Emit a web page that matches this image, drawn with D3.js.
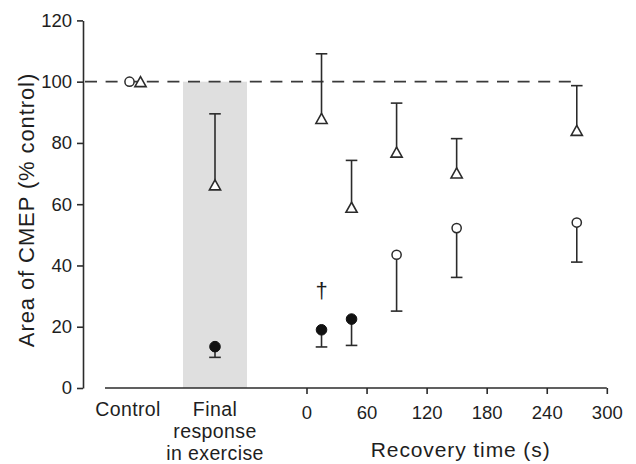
<!DOCTYPE html>
<html>
<head>
<meta charset="utf-8">
<script src="https://cdn.jsdelivr.net/npm/d3@7"></script>
<style>
  html, body { margin: 0; padding: 0; background: #fff; }
  svg { display: block; }
  text { font-family: "Liberation Sans", Arial, Helvetica, sans-serif; fill: #1e1e1e; }
</style>
</head>
<body>
<svg id="chart" width="636" height="464"></svg>
<script>
// Categorical columns on the left of the x axis
const categories = ["Control", "Final response in exercise"];
const categoryLines = [["Control"], ["Final", "response", "in exercise"]];

// Recovery time points (s)
const recoveryTimes = [15, 45, 90, 150, 270];

// Triangle series (% control): control, final response, recovery
const triControl = 100;
const triFinal = 66.3;
const triFinalUpper = 89.5;
const triRecovery = [88.0, 59.0, 77.0, 70.2, 84.1];
const triRecoveryUpper = [109.1, 74.3, 93.0, 81.4, 98.7];

// Circle series (% control): control, final response, recovery
const circControl = 100;
const circFinal = 13.5;
const circFinalLower = 10.0;
const circRecovery = [19.0, 22.5, 43.5, 52.2, 54.0];
const circRecoveryLower = [13.4, 13.9, 25.1, 36.1, 41.1];
const circFilled = [true, true, false, false, false];

// Axis ticks
const yTicks = [0, 20, 40, 60, 80, 100, 120];
const xTicks = [0, 60, 120, 180, 240, 300];

// Significance marker
const daggerTime = 15;
const daggerText = "\u2020";

const svg = d3.select("#chart");
const ink = "#2b2b2b";

const y = d3.scaleLinear().domain([0, 120]).range([388, 20.4]);
const xTime = d3.scaleLinear().domain([0, 300]).range([306.5, 606.8]);
const xCat = d3.scalePoint().domain(categories).range([128, 215]);

const axisLeftX = 83;
const axisBottomStart = 105;

// Shaded exercise column
const bandW = 64;
svg.append("rect")
  .attr("x", xCat(categories[1]) - bandW / 2)
  .attr("y", y(100))
  .attr("width", bandW)
  .attr("height", y(0) - y(100))
  .attr("fill", "#dfdfdf");

// Reference line at 100 %
svg.append("line")
  .attr("x1", axisLeftX).attr("x2", xTime(268))
  .attr("y1", y(100)).attr("y2", y(100))
  .attr("stroke", "#3a3a3a").attr("stroke-width", 1.8)
  .attr("stroke-dasharray", "12,8.6")
  .attr("stroke-dashoffset", 18.6);

// Y axis
const yAxis = d3.axisLeft(y).tickValues(yTicks).tickSize(6).tickSizeOuter(0).tickPadding(5);
const gy = svg.append("g").attr("transform", `translate(${axisLeftX},0)`).call(yAxis);
gy.select(".domain").attr("stroke", ink).attr("stroke-width", 1.6);
gy.selectAll(".tick line").attr("stroke", ink).attr("stroke-width", 1.6);
gy.selectAll(".tick text")
  .attr("font-size", 18.5).attr("fill", "#1e1e1e")
  .style("font-family", '"Liberation Sans", Arial, sans-serif');

// X axis (time)
const xAxis = d3.axisBottom(xTime).tickValues(xTicks).tickSize(6).tickSizeOuter(0).tickPadding(12);
const gx = svg.append("g").attr("transform", `translate(0,${y(0)})`).call(xAxis);
gx.select(".domain").remove();
gx.selectAll(".tick line").attr("stroke", ink).attr("stroke-width", 1.6);
gx.selectAll(".tick text")
  .attr("font-size", 18.5).attr("fill", "#1e1e1e")
  .style("font-family", '"Liberation Sans", Arial, sans-serif');
svg.append("line")
  .attr("x1", axisBottomStart).attr("x2", xTime(300))
  .attr("y1", y(0)).attr("y2", y(0))
  .attr("stroke", ink).attr("stroke-width", 1.6);

// Category labels
categories.forEach((c, i) => {
  const t = svg.append("text")
    .attr("x", xCat(c)).attr("y", 416)
    .attr("text-anchor", "middle")
    .attr("font-size", 19.5)
    .style("letter-spacing", "0.4px");
  categoryLines[i].forEach((ln, j) => {
    t.append("tspan").attr("x", xCat(c)).attr("dy", j === 0 ? 0 : 22).text(ln);
  });
});

// Axis titles
svg.append("text")
  .attr("x", xTime(150) + 4).attr("y", 457)
  .attr("text-anchor", "middle")
  .attr("font-size", 21)
  .style("letter-spacing", "0.9px")
  .text("Recovery time (s)");

svg.append("text")
  .attr("transform", "translate(34,210) rotate(-90)")
  .attr("text-anchor", "middle")
  .attr("font-size", 22)
  .style("letter-spacing", "0.9px")
  .text("Area of CMEP (% control)");

// Error bars
function errorBar(x, v, end) {
  svg.append("line")
    .attr("x1", x).attr("x2", x)
    .attr("y1", y(v)).attr("y2", y(end))
    .attr("stroke", ink).attr("stroke-width", 1.6);
  svg.append("line")
    .attr("x1", x - 5.8).attr("x2", x + 5.8)
    .attr("y1", y(end)).attr("y2", y(end))
    .attr("stroke", ink).attr("stroke-width", 1.6);
}

// Markers
function triangle(x, v) {
  const cy = y(v), hw = 5.6, h = 10;
  svg.append("path")
    .attr("d", `M${x},${cy - h / 2} L${x + hw},${cy + h / 2} L${x - hw},${cy + h / 2} Z`)
    .attr("fill", "#fff").attr("stroke", ink).attr("stroke-width", 1.6)
    .attr("stroke-linejoin", "miter");
}
function circle(x, v, filled) {
  svg.append("circle")
    .attr("cx", x).attr("cy", y(v))
    .attr("r", filled ? 5.3 : 4.6)
    .attr("fill", filled ? "#111" : "#fff")
    .attr("stroke", filled ? "#111" : ink).attr("stroke-width", filled ? 1 : 1.5);
}

// Triangle series
errorBar(xCat(categories[1]), triFinal, triFinalUpper);
recoveryTimes.forEach((t, i) => errorBar(xTime(t), triRecovery[i], triRecoveryUpper[i]));
triangle(xCat(categories[0]) + 12.5, triControl);
triangle(xCat(categories[1]), triFinal);
recoveryTimes.forEach((t, i) => triangle(xTime(t), triRecovery[i]));

// Circle series
errorBar(xCat(categories[1]), circFinal, circFinalLower);
recoveryTimes.forEach((t, i) => errorBar(xTime(t), circRecovery[i], circRecoveryLower[i]));
circle(xCat(categories[0]) + 1.5, circControl, false);
circle(xCat(categories[1]), circFinal, true);
recoveryTimes.forEach((t, i) => circle(xTime(t), circRecovery[i], circFilled[i]));

// Dagger above the first recovery point
svg.append("text")
  .attr("x", xTime(daggerTime)).attr("y", 298)
  .attr("text-anchor", "middle")
  .attr("font-size", 22)
  .attr("fill", "#555")
  .text(daggerText);
</script>
</body>
</html>
